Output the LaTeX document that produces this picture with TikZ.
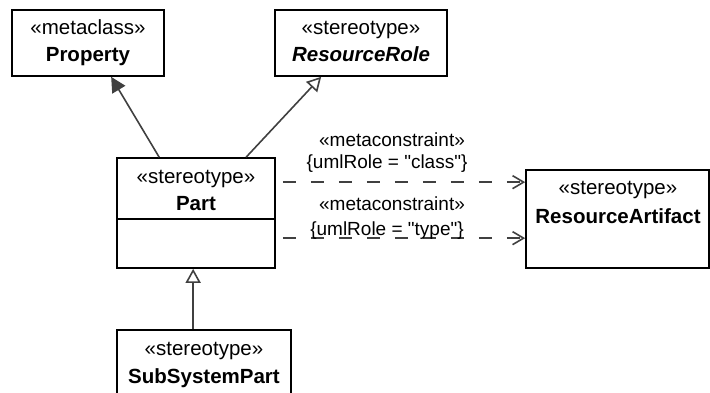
\documentclass[tikz,border=0pt]{standalone}
\usepackage{fontspec}
\setmainfont{Liberation Sans}[Ligatures=TeXOff]
\usetikzlibrary{arrows.meta,calc}
\definecolor{conncol}{HTML}{404040}
\begin{document}
\begin{tikzpicture}[x=1pt,y=-1pt,
  box/.style={draw=black,line width=1.7pt,inner sep=0pt,fill=white},
  txt/.style={inner sep=0pt,anchor=base,font=\fontsize{20.5}{24}\selectfont},
  lbl/.style={inner sep=0pt,anchor=base,font=\fontsize{19}{23}\selectfont},
  conn/.style={draw=conncol,line width=1.6pt},
  genarrow/.style={conn,-{Triangle[length=14pt,width=15pt,fill=white]}},
  assocarrow/.style={conn,-{Triangle[length=15pt,width=15pt,fill=conncol]}},
  deparrow/.style={conn,dash pattern=on 13pt off 15pt,-{Straight Barb[length=11pt,width=13pt]}}]
\useasboundingbox (0,0) rectangle (710,393);
\clip (0,0) rectangle (710,393);
% boxes
\node[box,minimum width=152pt,minimum height=66pt] (prop) at (88,43) {};
\node[box,minimum width=172pt,minimum height=66pt] (role) at (361,43) {};
\node[box,minimum width=158pt,minimum height=110pt] (part) at (196,213) {};
\node[box,minimum width=183pt,minimum height=98pt] (ra) at (617.5,219) {};
\node[box,minimum width=174pt,minimum height=70pt] (sub) at (204,365) {};
\draw[line width=1.7pt] (part.west |- 0,219) -- (part.east |- 0,219);
% texts
\node[txt] (propst) at (88,35) {«metaclass»};
\node[txt] (propnm) at (88,62) {\bfseries Property};
\node[txt] (rolest) at (361,35) {«stereotype»};
\node[txt] (rolenm) at (361,62) {\bfseries\itshape ResourceRole};
\node[txt] (partst) at (196,184) {«stereotype»};
\node[txt] (partnm) at (196,211) {\bfseries Part};
\node[txt] (rast) at (618,195) {«stereotype»};
\node[txt] (ranm) at (618,223) {\bfseries ResourceArtifact};
\node[txt] (subst) at (204,355) {«stereotype»};
\node[txt] (subnm) at (204,383) {\bfseries SubSystemPart};
% connectors
\draw[assocarrow] ([xshift=43pt]part.north west) -- ([xshift=100pt]prop.south west);
\draw[genarrow] ([xshift=130pt]part.north west) -- ([xshift=47pt]role.south west);
\draw[genarrow] ([xshift=77pt]sub.north west) -- ([xshift=77pt]part.south west);
\coordinate (d1s) at ([xshift=7pt,yshift=-25pt]part.north east);
\coordinate (d2s) at ([xshift=7pt,yshift=-81pt]part.north east);
\draw[deparrow] (d1s) -- (ra.west |- d1s);
\draw[deparrow] (d2s) -- (ra.west |- d2s);
% labels
\node[lbl] (l1a) at (392,147) {«metaconstraint»};
\node[lbl] (l1b) at (387,168) {\{umlRole = "class"\}};
\node[lbl] (l2a) at (392,211) {«metaconstraint»};
\node[lbl] (l2b) at (387,235) {\{umlRole = "type"\}};
\end{tikzpicture}
\end{document}
